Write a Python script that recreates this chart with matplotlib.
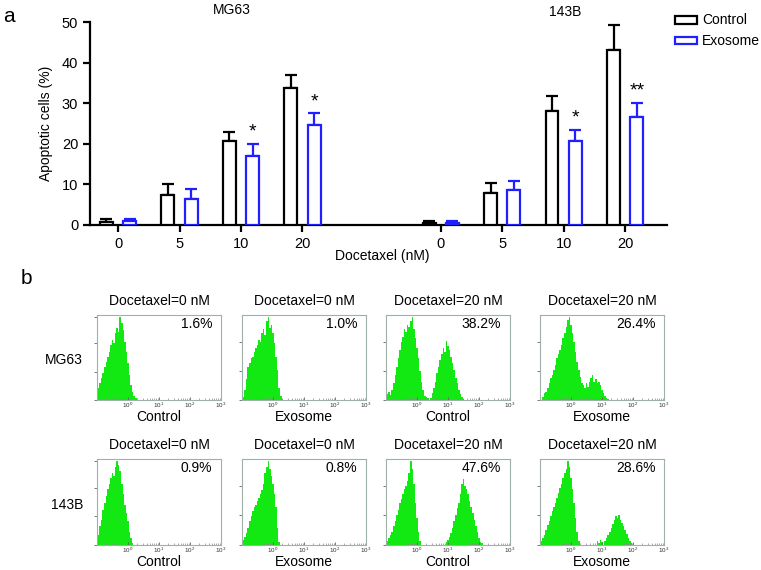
import numpy as np
import matplotlib
matplotlib.use('Agg')
import matplotlib.pyplot as plt

plt.rcParams['font.family'] = ['Liberation Sans', 'DejaVu Sans']

# ---- panel a data (apoptotic cells, %) ----
doses = ['0', '5', '10', '20']
mg63_ctrl = [0.8, 7.5, 20.6, 33.8]
mg63_ctrl_err = [0.6, 2.6, 2.3, 3.2]
mg63_exo = [0.9, 6.4, 17.0, 24.6]
mg63_exo_err = [0.6, 2.5, 2.9, 2.9]
b143_ctrl = [0.5, 8.0, 28.2, 43.0]
b143_ctrl_err = [0.6, 2.3, 3.5, 6.3]
b143_exo = [0.5, 8.5, 20.6, 26.7]
b143_exo_err = [0.6, 2.3, 2.8, 3.4]
mg63_sig = ['', '', '*', '*']
b143_sig = ['', '', '*', '**']

# ---- panel b data (flow histograms, log10 fluorescence, 0.05 decade bins) ----
hist_titles = ['Docetaxel=0 nM', 'Docetaxel=0 nM', 'Docetaxel=20 nM', 'Docetaxel=20 nM']
hist_xlabels = ['Control', 'Exosome', 'Control', 'Exosome']
row_labels = ['MG63', '143B']
hist_pct = [['1.6%', '1.0%', '38.2%', '26.4%'],
            ['0.9%', '0.8%', '47.6%', '28.6%']]
# each histogram: list of (start log10, heights)
hists = [
    [
        [(-1.0, [0.06, 0.14, 0.2, 0.27, 0.33, 0.4, 0.46, 0.52, 0.58, 0.66, 0.72, 0.68, 0.8,
                 0.86, 0.82, 1.0, 0.92, 0.84, 0.7, 0.58, 0.44, 0.3, 0.18, 0.1, 0.05, 0.02])],
        [(-0.95, [0.04, 0.12, 0.25, 0.4, 0.45, 0.5, 0.52, 0.58, 0.62, 0.66, 0.72, 0.7, 0.8,
                  0.85, 0.78, 0.95, 1.0, 0.86, 0.9, 0.8, 0.68, 0.52, 0.36, 0.15, 0.05, 0.01])],
        [(-1.0, [0.04, 0.07, 0.1, 0.06, 0.12, 0.2, 0.3, 0.4, 0.5, 0.6, 0.7, 0.76, 0.85, 0.82,
                 0.9, 0.88, 0.95, 1.0, 0.85, 0.75, 0.62, 0.5, 0.35, 0.22, 0.12, 0.05, 0.04, 0.02]),
         (0.45, [0.03, 0.08, 0.14, 0.22, 0.32, 0.4, 0.48, 0.55, 0.62, 0.58, 0.71, 0.65, 0.6,
                 0.52, 0.45, 0.36, 0.27, 0.2, 0.12, 0.07, 0.04, 0.01])],
        [(-0.9, [0.04, 0.08, 0.1, 0.14, 0.2, 0.26, 0.3, 0.36, 0.42, 0.5, 0.55, 0.6, 0.66, 0.75,
                 0.8, 0.88, 0.96, 1.0, 0.9, 0.8, 0.7, 0.58, 0.46, 0.36, 0.28, 0.2, 0.18, 0.14,
                 0.2, 0.16, 0.22, 0.26, 0.3, 0.22, 0.25, 0.2, 0.22, 0.18, 0.12, 0.08, 0.05,
                 0.03, 0.01])],
    ],
    [
        [(-1.0, [0.18, 0.12, 0.22, 0.3, 0.42, 0.5, 0.58, 0.66, 0.72, 0.8, 0.85, 0.82, 0.92,
                 1.0, 0.95, 0.88, 0.72, 0.6, 0.48, 0.38, 0.28, 0.16, 0.08, 0.02])],
        [(-1.0, [0.04, 0.06, 0.1, 0.14, 0.2, 0.28, 0.34, 0.4, 0.45, 0.48, 0.52, 0.56, 0.6,
                 0.65, 0.72, 0.85, 0.92, 1.0, 0.9, 0.82, 0.72, 0.6, 0.45, 0.2, 0.04])],
        [(-1.0, [0.02, 0.05, 0.08, 0.12, 0.16, 0.22, 0.28, 0.35, 0.42, 0.5, 0.55, 0.6, 0.66,
                 0.7, 0.76, 0.85, 1.0, 0.9, 0.72, 0.5, 0.32, 0.15, 0.05]),
         (0.95, [0.04, 0.06, 0.1, 0.14, 0.2, 0.28, 0.35, 0.44, 0.5, 0.6, 0.72, 0.78, 0.7,
                 0.66, 0.6, 0.52, 0.45, 0.38, 0.3, 0.22, 0.15, 0.08, 0.04, 0.02])],
        [(-0.95, [0.05, 0.08, 0.12, 0.18, 0.24, 0.28, 0.34, 0.4, 0.45, 0.5, 0.56, 0.62, 0.68,
                  0.72, 0.8, 0.85, 0.9, 1.0, 0.92, 0.8, 0.66, 0.5, 0.32, 0.15, 0.05]),
         (0.85, [0.05, 0.02, 0.06, 0.04, 0.0, 0.05, 0.08, 0.12, 0.16, 0.2, 0.25, 0.3, 0.34,
                 0.32, 0.36, 0.3, 0.26, 0.22, 0.18, 0.13, 0.08, 0.05, 0.02])],
    ],
]

W, H = 761, 570
fig = plt.figure(figsize=(W / 100, H / 100), dpi=100)


def px_axes(x0, y0, x1, y1):
    return fig.add_axes([x0 / W, 1 - y1 / H, (x1 - x0) / W, (y1 - y0) / H])


# ================= panel a =================
ax = px_axes(90, 22, 667, 225)
pos = np.array([0, 1, 2, 3, 5.25, 6.25, 7.25, 8.25])
ctrl = mg63_ctrl + b143_ctrl
ctrl_err = mg63_ctrl_err + b143_ctrl_err
exo = mg63_exo + b143_exo
exo_err = mg63_exo_err + b143_exo_err
sig = mg63_sig + b143_sig
bw, off = 0.21, 0.19
blue = '#1f1fff'

ax.bar(pos - off, ctrl, bw, facecolor='white', edgecolor='black', linewidth=1.6, label='Control', zorder=3)
ax.bar(pos + off, exo, bw, facecolor='white', edgecolor=blue, linewidth=1.6, label='Exosome', zorder=3)
ax.errorbar(pos - off, ctrl, yerr=[np.zeros(8), ctrl_err], fmt='none', ecolor='black',
            elinewidth=1.6, capsize=4, capthick=1.6, zorder=2)
ax.errorbar(pos + off, exo, yerr=[np.zeros(8), exo_err], fmt='none', ecolor=blue,
            elinewidth=1.6, capsize=4, capthick=1.6, zorder=2)
for p, v, e, s in zip(pos, exo, exo_err, sig):
    if s:
        ax.text(p + off, v + e + 0.8, s, ha='center', va='bottom', fontsize=14)

ax.set_xlim(-0.456, 8.93)
ax.set_ylim(0, 50)
ax.set_yticks(range(0, 51, 10))
ax.set_xticks(pos)
ax.set_xticklabels(doses + doses)
ax.spines['top'].set_visible(False)
ax.spines['right'].set_visible(False)
ax.spines['left'].set_linewidth(1.6)
ax.spines['bottom'].set_linewidth(1.6)
ax.tick_params(width=1.6, length=5, labelsize=10.5)
ax.set_ylabel('Apoptotic cells (%)', fontsize=10, labelpad=6)
fig.text(382 / W, 1 - 256 / H, 'Docetaxel (nM)', ha='center', va='center', fontsize=10)
fig.text(232 / W, 1 - 10 / H, 'MG63', ha='center', va='center', fontsize=10)
fig.text(565 / W, 1 - 12 / H, '143B', ha='center', va='center', fontsize=10)
fig.legend(loc='upper left', bbox_to_anchor=(662 / W, 1 - 1 / H), frameon=False, fontsize=10,
           handlelength=1.6, handleheight=0.5, handletextpad=0.4, labelspacing=0.5)

fig.text(9 / W, 1 - 16 / H, 'a', ha='center', va='center', fontsize=15)
fig.text(26 / W, 1 - 278 / H, 'b', ha='center', va='center', fontsize=15)

# ================= panel b =================
lefts = [97, 242, 386, 540]
rows = [(315, 400), (459, 545)]
green = '#12e812'
frame = '#9fb0a6'
step = 0.05
for r, (top, bot) in enumerate(rows):
    fig.text(83 / W, 1 - ((top + bot) / 2 + 3) / H, row_labels[r], ha='right', va='center', fontsize=10)
    for c, x0 in enumerate(lefts):
        hx = px_axes(x0, top, x0 + 124, bot)
        for start, hts in hists[r][c]:
            edges = 10 ** (start - step / 2 + step * np.arange(len(hts) + 1))
            hx.stairs(hts, edges, fill=True, color=green, linewidth=0)
        hx.set_xscale('log')
        hx.set_xlim(0.1, 1000)
        hx.set_ylim(0, 1.02)
        hx.set_xticks([1, 10, 100, 1000])
        hx.set_yticks([0, 0.34, 0.68, 1.0] if c == 0 else [0, 0.35, 0.7])
        hx.set_yticklabels([])
        for sp in hx.spines.values():
            sp.set_color(frame)
            sp.set_linewidth(0.8)
        hx.tick_params(axis='x', which='both', direction='in')
        hx.tick_params(axis='x', which='major', length=2, width=0.6, color='#666666',
                       labelsize=4.5, pad=0.5, labelcolor='#333333')
        hx.tick_params(axis='x', which='minor', length=1.2, width=0.5, color='#888888')
        hx.tick_params(axis='y', length=2, width=0.6, color='#666666')
        hx.set_title(hist_titles[c], fontsize=10, pad=7)
        fig.text((x0 + 62) / W, 1 - (bot + 17) / H, hist_xlabels[c], ha='center', va='center', fontsize=10)
        hx.text(0.93, 0.9, hist_pct[r][c], transform=hx.transAxes, ha='right', va='center', fontsize=10)

fig.savefig('out.png', dpi=100)
